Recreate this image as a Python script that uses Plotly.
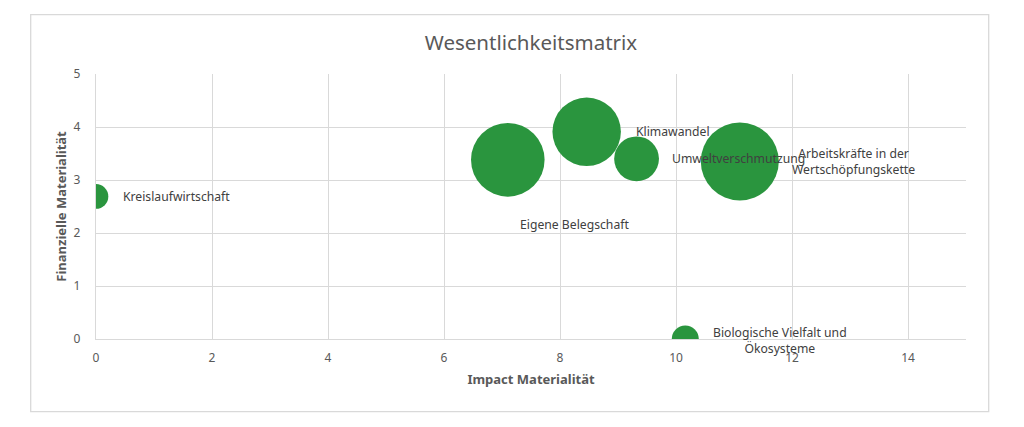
import plotly.graph_objects as go

themen = ["Kreislaufwirtschaft", "Eigene Belegschaft", "Klimawandel",
          "Umweltverschmutzung", "Arbeitskräfte in der<br>Wertschöpfungskette",
          "Biologische Vielfalt und<br>Ökosysteme"]
impact = [0.0, 7.10, 8.46, 9.32, 11.10, 10.16]
finanziell = [2.69, 3.38, 3.91, 3.40, 3.35, 0.0]
bedeutung = [1.0, 8.9, 7.7, 3.3, 10.0, 1.2]

# label offsets in pixels (x, y) relative to bubble centre
label_dx = [80, 67, 86, 102, 114, 95]
label_dy = [0, -65, 0, 0, 0, -1]

x_ticks = [0, 2, 4, 6, 8, 10, 12, 14]
y_ticks = [0, 1, 2, 3, 4, 5]

GREEN = "#2A953E"
GRID = "#D9D9D9"
TXT = "#595959"
FONT = "Noto Sans"

# the page places the figure 8px from the window's top-left corner
W, H = 1016, 419
L, T, R, B = 88.3, 66.3, 57.7, 87.7
PW, PH = W - L - R, H - T - B

max_d = 78
fig = go.Figure(go.Scatter(
    x=impact, y=finanziell, mode="markers",
    marker=dict(size=bedeutung, sizemode="area",
                sizeref=2.0 * max(bedeutung) / (max_d ** 2),
                color=GREEN, line=dict(width=0), opacity=1),
    cliponaxis=True, hoverinfo="text", text=themen,
))

for t, xv, yv, dx, dy in zip(themen, impact, finanziell, label_dx, label_dy):
    fig.add_annotation(x=xv, y=yv, text=t, showarrow=False, xshift=dx, yshift=dy,
                       xanchor="center", yanchor="middle", align="center",
                       font=dict(family=FONT, size=12.2, color="#404040"))

fig.update_layout(
    width=W, height=H,
    margin=dict(l=L, r=R, t=T, b=B, pad=0),
    paper_bgcolor="white", plot_bgcolor="white",
    showlegend=False,
    title=dict(text="Wesentlichkeitsmatrix", x=0.5, xanchor="center",
               y=1 - 35 / H, yanchor="middle", xref="paper",
               font=dict(family=FONT, size=20.5, color=TXT)),
    font=dict(family=FONT, color=TXT),
    shapes=[dict(type="rect", xref="paper", yref="paper", layer="below",
                 x0=(23 - L) / PW, x1=(981 - L) / PW,
                 y0=(H - B - 404) / PH, y1=(H - B - 7) / PH,
                 line=dict(color=GRID, width=1.3))],
)
fig.update_xaxes(range=[0, 15], tickvals=x_ticks, showgrid=True, gridcolor=GRID,
                 gridwidth=1, zeroline=False, showline=True, linecolor=GRID,
                 linewidth=1.3, ticks="", ticklabelstandoff=7,
                 tickfont=dict(family=FONT, size=12, color=TXT),
                 title=dict(text="<b>Impact Materialität</b>", standoff=10,
                            font=dict(family=FONT, size=13, color=TXT)))
fig.update_yaxes(range=[0, 5], tickvals=y_ticks, showgrid=True, gridcolor=GRID,
                 gridwidth=1, zeroline=False, showline=True, linecolor=GRID,
                 linewidth=1.3, ticks="", ticklabelstandoff=12,
                 tickfont=dict(family=FONT, size=12, color=TXT),
                 title=dict(text="<b>Finanzielle Materialität</b>", standoff=4,
                            font=dict(family=FONT, size=13, color=TXT)))

fig.write_html("out.html")
